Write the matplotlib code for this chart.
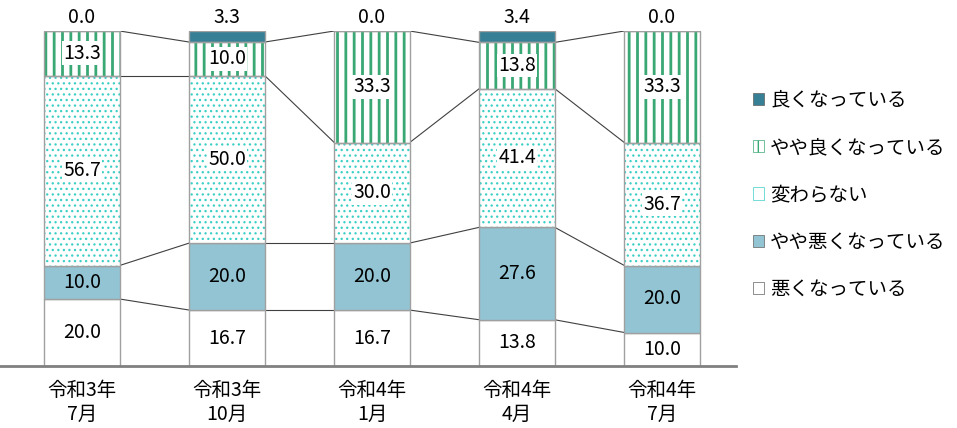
import matplotlib
matplotlib.use('Agg')
import matplotlib.pyplot as plt
from matplotlib.patches import Patch
import numpy as np

plt.rcParams['font.family'] = ['Noto Sans CJK JP', 'DejaVu Sans']

periods = ['令和3年\n7月', '令和3年\n10月', '令和4年\n1月', '令和4年\n4月', '令和4年\n7月']
# bottom to top
series_names = ['悪くなっている', 'やや悪くなっている', '変わらない', 'やや良くなっている', '良くなっている']
worse = [20.0, 16.7, 16.7, 13.8, 10.0]
slightly_worse = [10.0, 20.0, 20.0, 27.6, 20.0]
same = [56.7, 50.0, 30.0, 41.4, 36.7]
slightly_better = [13.3, 10.0, 33.3, 13.8, 33.3]
better = [0.0, 3.3, 0.0, 3.4, 0.0]

values = [worse, slightly_worse, same, slightly_better, better]
styles = [
    dict(face='white', hatch=None, hcol=None, hlw=1, box=False),
    dict(face='#92C4D4', hatch=None, hcol=None, hlw=1, box=False),
    dict(face='white', hatch='...', hcol='#3CCFC6', hlw=0.9, box=True),
    dict(face='white', hatch='||', hcol='#3AA874', hlw=2.0, box=True),
    dict(face='#367F95', hatch=None, hcol=None, hlw=1, box=False),
]

fig = plt.figure(figsize=(9.57, 4.28), dpi=100)
ax = fig.add_axes([0.0, 1 - 366 / 428, 736 / 957, (366 - 31) / 428])

x = np.arange(len(periods))
width = 0.52
edge = '#A0A0A0'

bottom = np.zeros(len(periods))
tops = []
for vals, st in zip(values, styles):
    vals = np.array(vals)
    if st['hatch']:
        with plt.rc_context({'hatch.linewidth': st['hlw']}):
            ax.bar(x, vals, width, bottom=bottom, color=st['face'], edgecolor=st['hcol'],
                   hatch=st['hatch'], linewidth=0, zorder=2)
        ax.bar(x, vals, width, bottom=bottom, fill=False, edgecolor=edge, linewidth=1, zorder=3)
    else:
        ax.bar(x, vals, width, bottom=bottom, color=st['face'], edgecolor=edge, linewidth=1, zorder=2)
    bottom = bottom + vals
    tops.append(bottom.copy())

# series lines between bars
for t in tops[:-1]:
    for i in range(len(periods) - 1):
        ax.plot([x[i] + width / 2, x[i + 1] - width / 2], [t[i], t[i + 1]],
                color='#404040', linewidth=0.8, zorder=1)

# labels
for k, (vals, st) in enumerate(zip(values, styles)):
    for i, v in enumerate(vals):
        if k == len(values) - 1:
            ax.annotate(f'{v:.1f}', (x[i], 100), xytext=(0, 2), textcoords='offset points',
                        ha='center', va='bottom', fontsize=14, annotation_clip=False)
        else:
            yc = tops[k][i] - v / 2
            kw = {}
            if st['box']:
                kw['bbox'] = dict(facecolor='white', edgecolor='none', pad=1)
            ax.text(x[i], yc, f'{v:.1f}', ha='center', va='center', fontsize=14, zorder=5, **kw)

ax.set_xlim(-0.565, 4.51)
ax.set_ylim(0, 100)
ax.set_xticks(x)
ax.set_xticklabels(periods, fontsize=14, linespacing=1.2)
ax.tick_params(axis='x', length=0, pad=10)
ax.set_yticks([])
for s in ['top', 'right', 'left']:
    ax.spines[s].set_visible(False)
ax.spines['bottom'].set_color('#808080')
ax.spines['bottom'].set_linewidth(2)
ax.spines['bottom'].set_zorder(6)

handles = []
for name, st in zip(series_names[::-1], styles[::-1]):
    if st['hatch']:
        with plt.rc_context({'hatch.linewidth': st['hlw']}):
            handles.append(Patch(facecolor='white', edgecolor=st['hcol'], hatch=st['hatch'][0], linewidth=0.5))
    else:
        handles.append(Patch(facecolor=st['face'], edgecolor='#606060', linewidth=0.5))
fig.legend(handles, series_names[::-1], loc='upper left', bbox_to_anchor=(745 / 957, 1 - 82 / 428),
           frameon=False, fontsize=14, handlelength=0.6, handleheight=0.6, handletextpad=0.3,
           labelspacing=1.35, borderaxespad=0)

fig.savefig('out.png', dpi=100)
